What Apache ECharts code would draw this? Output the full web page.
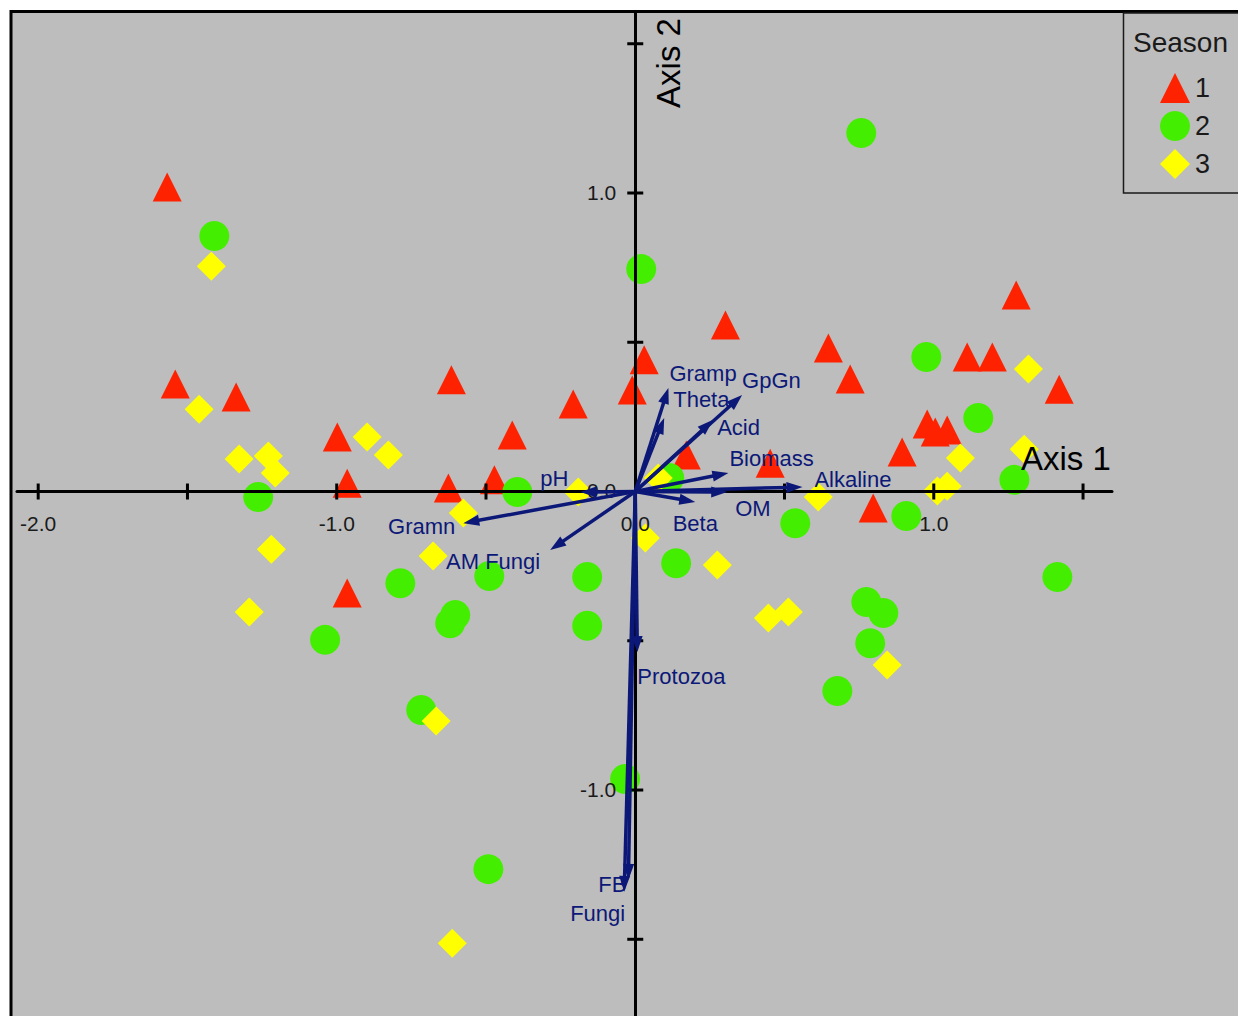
<!DOCTYPE html>
<html>
<head>
<meta charset="utf-8">
<title>Season ordination biplot</title>
<script src="https://cdn.jsdelivr.net/npm/echarts@6/dist/echarts.min.js"></script>
<style>
  html, body { margin: 0; padding: 0; background: #ffffff; }
  #chart { width: 1238px; height: 1016px; }
</style>
</head>
<body>
<div id="chart"></div>
<script>
// Sample scores on the first two ordination axes, one array per season
const season1 = [
  [-1.568, 1.020], [-1.541, 0.360], [-1.337, 0.317], [-0.998, 0.183], [-0.965, 0.028],
  [-0.965, -0.340], [-0.616, 0.374], [-0.626, 0.012], [-0.412, 0.189], [-0.472, 0.039],
  [-0.208, 0.293], [-0.010, 0.340], [0.030, 0.441], [0.302, 0.558], [0.171, 0.122],
  [0.452, 0.095], [0.647, 0.481], [0.720, 0.377], [0.894, 0.132], [0.797, -0.055],
  [0.978, 0.226], [1.005, 0.199], [1.045, 0.206], [1.112, 0.451], [1.196, 0.451],
  [1.276, 0.658], [1.420, 0.343]
];
const season2 = [
  [0.757, 1.201], [-1.410, 0.856], [0.020, 0.745], [0.975, 0.451], [1.149, 0.246],
  [-1.263, -0.018], [-0.395, -0.002], [0.114, 0.045], [1.270, 0.039], [0.536, -0.106],
  [0.908, -0.082], [0.137, -0.240], [-0.787, -0.307], [-0.489, -0.283], [-0.161, -0.286],
  [-0.603, -0.414], [-0.620, -0.441], [-0.161, -0.450], [-1.039, -0.497], [0.774, -0.370],
  [0.831, -0.407], [0.787, -0.508], [0.677, -0.668], [1.414, -0.286], [-0.717, -0.732],
  [-0.034, -0.963], [-0.492, -1.265]
];
const season3 = [
  [-1.420, 0.755], [-1.461, 0.276], [-1.327, 0.109], [-1.229, 0.119], [-1.206, 0.062],
  [-0.898, 0.183], [-0.827, 0.122], [-0.576, -0.072], [-1.219, -0.193], [-1.293, -0.404],
  [-0.677, -0.216], [-0.667, -0.769], [-0.613, -1.513], [-0.191, -0.002], [0.077, 0.045],
  [0.034, -0.156], [0.275, -0.246], [0.446, -0.424], [0.513, -0.404], [0.613, -0.018],
  [0.844, -0.581], [1.012, 0.002], [1.045, 0.018], [1.089, 0.112], [1.317, 0.410],
  [1.303, 0.142]
];

// Environmental / soil variable vectors (arrow tips, axis units)
const vectorNames = ['Gramp', 'Theta', 'GpGn', 'Acid', 'Biomass', 'Alkaline', 'OM', 'Beta',
  'pH', 'Gramn', 'AM Fungi', 'Protozoa', 'FB', 'Fungi'];
const vectorX = [0.111, 0.097, 0.358, 0.261, 0.312, 0.560, 0.308, 0.201,
  -0.184, -0.576, -0.285, 0.007, -0.023, -0.037];
const vectorY = [0.347, 0.246, 0.323, 0.240, 0.062, 0.015, -0.002, -0.035,
  -0.002, -0.106, -0.196, -0.538, -1.301, -1.341];

// Axis ticks and labelled values
const xTicks = [-2.0, -1.5, -1.0, -0.5, 0.5, 1.0, 1.5];
const yTicks = [1.5, 1.0, 0.5, -0.5, -1.0, -1.5];
const xTickLabels = [-2.0, -1.0, 0.0, 1.0];
const yTickLabels = [1.0, 0.0, -1.0];

const seasonNames = ['1', '2', '3'];

// ---- styling ----
const NAVY = '#0c1878';
const AXIS_COLOR = '#000000';
const TEXT_COLOR = '#1a1a1a';
const FONT = '"Liberation Sans", Arial, sans-serif';

// where each vector's name sits relative to its arrow tip (pixels)
const labelPlace = {
  'Gramp':    { dx: 1,   dy: -14, align: 'left' },
  'Theta':    { dx: 9,   dy: -19, align: 'left' },
  'GpGn':     { dx: 0,   dy: -15, align: 'left' },
  'Acid':     { dx: 4,   dy: 8,   align: 'left' },
  'Biomass':  { dx: 1,   dy: -15, align: 'left' },
  'Alkaline': { dx: 12,  dy: -8,  align: 'left' },
  'OM':       { dx: 8,   dy: 16,  align: 'left' },
  'Beta':     { dx: 0,   dy: 22,  align: 'center' },
  'pH':       { dx: -12, dy: -14, align: 'right' },
  'Gramn':    { dx: -8,  dy: 3,   align: 'right' },
  'AM Fungi': { dx: -10, dy: 11,  align: 'right' },
  'Protozoa': { dx: 0,   dy: 24,  align: 'left' },
  'FB':       { dx: -2,  dy: 5,   align: 'right' },
  'Fungi':    { dx: 1,   dy: 22,  align: 'right' }
};

const fmt = v => v.toFixed(1);

const chart = echarts.init(document.getElementById('chart'), null, { renderer: 'svg' });

const option = {
  animation: false,
  backgroundColor: '#ffffff',
  grid: { left: 17, right: 126, top: 13, bottom: 0, containLabel: false },
  xAxis: {
    type: 'value', min: -2.071, max: 1.597, z: 3,
    axisLine: { show: true, onZero: true, lineStyle: { color: AXIS_COLOR, width: 3 } },
    axisTick: { show: false }, axisLabel: { show: false }, splitLine: { show: false }
  },
  yAxis: {
    type: 'value', min: -1.757, max: 1.603, z: 3,
    axisLine: { show: true, onZero: true, lineStyle: { color: AXIS_COLOR, width: 3 } },
    axisTick: { show: false }, axisLabel: { show: false }, splitLine: { show: false }
  },
  legend: {
    data: seasonNames,
    orient: 'vertical',
    left: 1155, top: 68,
    itemWidth: 30, itemHeight: 30, itemGap: 8,
    textStyle: { color: TEXT_COLOR, fontSize: 27, fontFamily: FONT },
    selectedMode: false
  },
  graphic: [
    { type: 'rect', z: -100, silent: true,
      shape: { x: 11, y: 11.5, width: 1260, height: 1040 },
      style: { fill: '#bdbdbd', stroke: '#000000', lineWidth: 3 } },
    { type: 'rect', z: -50, silent: true,
      shape: { x: 1123.5, y: 13, width: 140, height: 180 },
      style: { fill: 'transparent', stroke: '#1a1a1a', lineWidth: 1.5 } },
    { type: 'text', z: 10, x: 1133, y: 42,
      style: { text: 'Season', fill: TEXT_COLOR, font: '28px ' + FONT, align: 'left', verticalAlign: 'middle' } },
    { type: 'text', z: 10, x: 1021, y: 458,
      style: { text: 'Axis 1', fill: '#000', font: '33px ' + FONT, align: 'left', verticalAlign: 'middle' } },
    { type: 'text', z: 10, x: 668, y: 63, rotation: Math.PI / 2,
      style: { text: 'Axis 2', fill: '#000', font: '33px ' + FONT, align: 'center', verticalAlign: 'middle' } }
  ],
  series: [
    { name: '1', type: 'scatter', data: season1, symbol: 'triangle', symbolSize: 29, z: 2,
      itemStyle: { color: '#ff2200', opacity: 1 } },
    { name: '2', type: 'scatter', data: season2, symbol: 'circle', symbolSize: 30, z: 2,
      itemStyle: { color: '#44ee00', opacity: 1 } },
    { name: '3', type: 'scatter', data: season3, symbol: 'diamond', symbolSize: 29, z: 2,
      itemStyle: { color: '#ffff00', opacity: 1 } },
    // tick marks crossing the horizontal axis
    { type: 'custom', z: 4, silent: true,
      data: xTicks.map(v => [v, 0]),
      renderItem: (params, api) => {
        const p = api.coord([api.value(0), 0]);
        return { type: 'line', shape: { x1: p[0], y1: p[1] - 8, x2: p[0], y2: p[1] + 8 },
          style: { stroke: AXIS_COLOR, lineWidth: 3 } };
      } },
    // tick marks crossing the vertical axis
    { type: 'custom', z: 4, silent: true,
      data: yTicks.map(v => [0, v]),
      renderItem: (params, api) => {
        const p = api.coord([0, api.value(1)]);
        return { type: 'line', shape: { x1: p[0] - 8, y1: p[1], x2: p[0] + 8, y2: p[1] },
          style: { stroke: AXIS_COLOR, lineWidth: 3 } };
      } },
    // horizontal axis values
    { type: 'custom', z: 5, silent: true,
      data: xTickLabels.map(v => [v, 0]),
      renderItem: (params, api) => {
        const v = api.value(0);
        const p = api.coord([v, 0]);
        return { type: 'text', x: p[0], y: p[1] + 32,
          style: { text: fmt(v), fill: TEXT_COLOR, font: '21px ' + FONT, align: 'center', verticalAlign: 'middle' } };
      } },
    // vertical axis values
    { type: 'custom', z: 5, silent: true,
      data: yTickLabels.map(v => [0, v]),
      renderItem: (params, api) => {
        const v = api.value(1);
        const p = api.coord([0, v]);
        return { type: 'text', x: p[0] - 19, y: p[1] - 1,
          style: { text: fmt(v), fill: TEXT_COLOR, font: '21px ' + FONT, align: 'right', verticalAlign: 'middle' } };
      } },
    // variable arrows with their names
    { type: 'custom', z: 6, silent: true,
      data: vectorNames.map((n, i) => [vectorX[i], vectorY[i]]),
      renderItem: (params, api) => {
        const name = vectorNames[params.dataIndex];
        const o = api.coord([0, 0]);
        const p = api.coord([api.value(0), api.value(1)]);
        const dx = p[0] - o[0], dy = p[1] - o[1];
        const len = Math.hypot(dx, dy) || 1;
        const ux = dx / len, uy = dy / len;
        const hl = 16, hw = 5.5;
        const bx = p[0] - ux * hl, by = p[1] - uy * hl;
        const lp = labelPlace[name];
        return {
          type: 'group',
          children: [
            { type: 'line', shape: { x1: o[0], y1: o[1], x2: bx + ux * 3, y2: by + uy * 3 },
              style: { stroke: NAVY, lineWidth: 3.5 } },
            { type: 'polygon',
              shape: { points: [[p[0], p[1]], [bx - uy * hw, by + ux * hw], [bx + uy * hw, by - ux * hw]] },
              style: { fill: NAVY } },
            { type: 'text', x: p[0] + lp.dx, y: p[1] + lp.dy,
              style: { text: name, fill: NAVY, font: '22px ' + FONT, align: lp.align, verticalAlign: 'middle' } }
          ]
        };
      } }
  ]
};

chart.setOption(option);
</script>
</body>
</html>
